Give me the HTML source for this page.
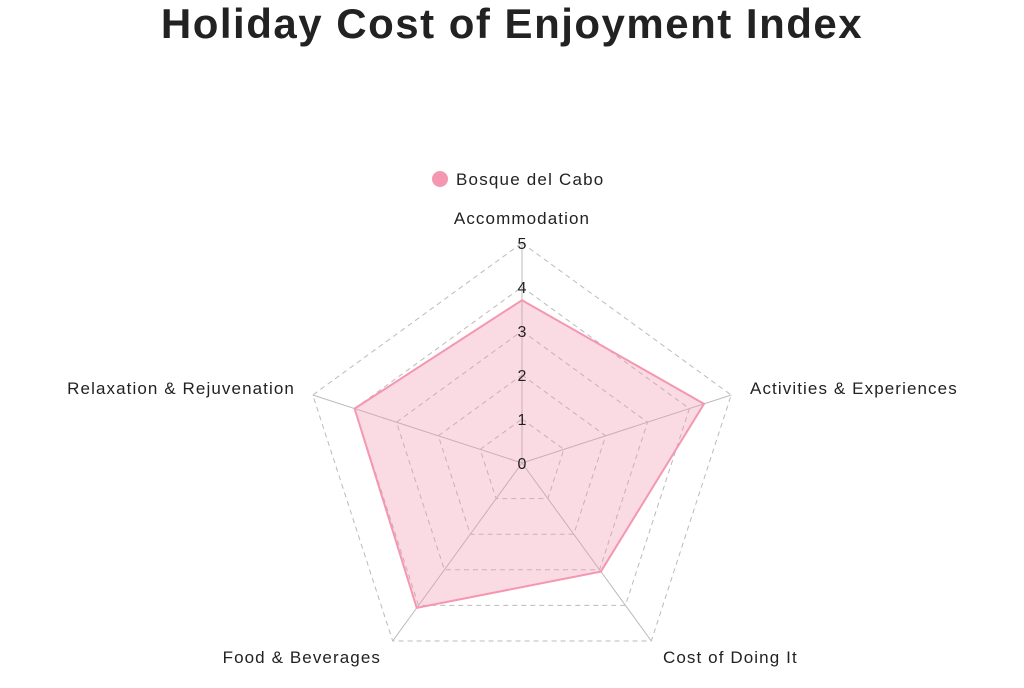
<!DOCTYPE html>
<html><head><meta charset="utf-8"><style>
html,body{margin:0;padding:0;background:#fff;}
svg text{font-family:"Liberation Sans",sans-serif;fill:#222;}
</style></head><body>
<svg id="s" width="1024" height="683" xmlns="http://www.w3.org/2000/svg">
<text x="512" y="38" text-anchor="middle" font-size="42" font-weight="bold" letter-spacing="1.5" fill="#222">Holiday Cost of Enjoyment Index</text>
<circle cx="440" cy="179" r="8" fill="#f497b0"/>
<text x="456" y="185" font-size="17" letter-spacing="1.2">Bosque del Cabo</text>
<g id="g"></g>
</svg>
<script>
var cx=522,cy=463,R=220,g=document.getElementById('g'),ns='http://www.w3.org/2000/svg';
function pt(i,v){var a=(-90+72*i)*Math.PI/180;return [cx+R*v/5*Math.cos(a),cy+R*v/5*Math.sin(a)];}
function el(n,at){var e=document.createElementNS(ns,n);for(var k in at)e.setAttribute(k,at[k]);g.appendChild(e);return e;}
for(var l=1;l<=5;l++){var p=[];for(var i=0;i<5;i++)p.push(pt(i,l).join(','));
el('polygon',{points:p.join(' '),fill:'none',stroke:'#bbb','stroke-dasharray':'5,4','stroke-width':1});}
for(var i=0;i<5;i++){var q=pt(i,5);el('line',{x1:cx,y1:cy,x2:q[0],y2:q[1],stroke:'#bbb','stroke-width':1});}
var d=[3.7,4.35,3.05,4.07,4.0],p=[];for(var i=0;i<5;i++)p.push(pt(i,d[i]).join(','));
el('polygon',{points:p.join(' '),fill:'rgba(244,151,176,0.35)',stroke:'#f497b0','stroke-width':2});
for(var l=0;l<=5;l++){var t=el('text',{x:522,y:cy-44*l+6,'text-anchor':'middle','font-size':16});t.textContent=l;}
var labs=[['Accommodation',522,224,'middle'],['Activities & Experiences',750,394,'start'],['Cost of Doing It',663,663,'start'],['Food & Beverages',381,663,'end'],['Relaxation & Rejuvenation',295,394,'end']];
labs.forEach(function(b){var t=el('text',{x:b[1],y:b[2],'text-anchor':b[3],'font-size':17,'letter-spacing':1.1});t.textContent=b[0];});
</script>
</body></html>
